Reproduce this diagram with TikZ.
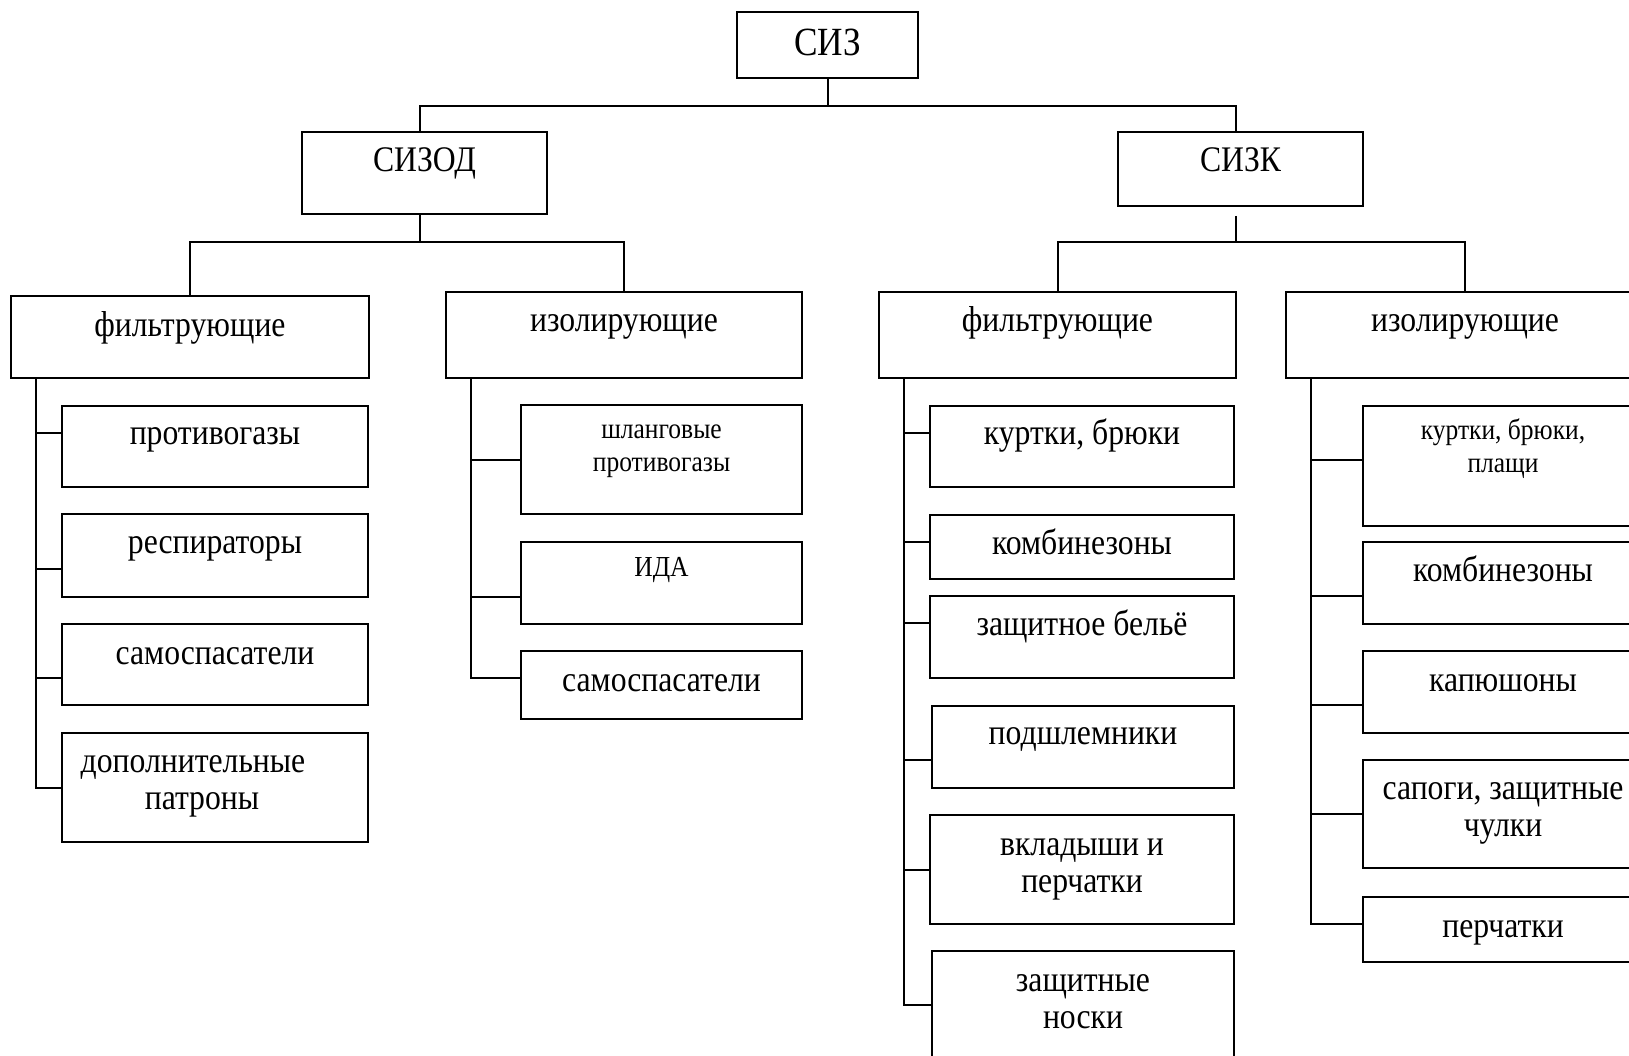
\documentclass[tikz,border=0pt]{standalone}
\usepackage{fontspec}
\setmainfont{Liberation Serif}[FakeStretch=0.88]
\newcommand\boxfont{\fontsize{36}{37}\selectfont}
\newcommand\smallboxfont{\fontsize{29}{33}\selectfont}
\newcommand\topfont{\fontsize{40}{40}\selectfont}

\begin{document}
\begin{tikzpicture}[x=1pt, y=-1pt, line width=2pt,
    box/.style={draw, inner sep=0pt, anchor=north west, align=center, font=\boxfont, text height=40pt},
    small/.style={font=\smallboxfont, text height=34pt}]
  \useasboundingbox (0,0) rectangle (1629,1056);
  \clip (0,0) rectangle (1629,1056);

  % top levels
  \node[box, font=\topfont, minimum width=181, text height=44pt, text depth=22pt] (siz) at (736,11) {СИЗ};
  \node[box, minimum width=245, text height=40pt, text depth=42pt] (sizod) at (301,131) {СИЗОД};
  \node[box, minimum width=245, text height=40pt, text depth=34pt] (sizk) at (1117,131) {СИЗК};

  \node[box, minimum width=358, text height=40pt, text depth=42pt] (fil1) at (10,295) {фильтрующие};
  \node[box, minimum width=356, text height=39pt, text depth=47pt] (iso1) at (445,291) {изолирующие};
  \node[box, minimum width=357, text height=39pt, text depth=47pt] (fil2) at (878,291) {фильтрующие};
  \node[box, minimum width=358, text height=39pt, text depth=47pt] (iso2) at (1285,291) {изолирующие};

  % СИЗОД, фильтрующие
  \node[box, minimum width=306, text height=38pt, text depth=43pt] (a1) at (61,405) {противогазы};
  \node[box, minimum width=306, text height=39pt, text depth=44pt] (a2) at (61,513) {респираторы};
  \node[box, minimum width=306, text depth=41pt] (a3) at (61,623) {самоспасатели};
  \node[box, minimum width=306, text height=76pt, text depth=33pt] (a4) at (61,732) {дополнительные\hspace*{44pt}\\патроны\hspace*{26pt}};

  % СИЗОД, изолирующие
  \node[box, small, minimum width=281, text height=66pt, text depth=43pt] (b1) at (520,404) {шланговые\\противогазы};
  \node[box, small, minimum width=281, text depth=48pt] (b2) at (520,541) {ИДА};
  \node[box, minimum width=281, text depth=28pt] (b3) at (520,650) {самоспасатели};

  % СИЗК, фильтрующие
  \node[box, minimum width=304, text height=38pt, text depth=43pt] (c1) at (929,405) {куртки, брюки};
  \node[box, minimum width=304, text height=39pt, text depth=25pt] (c2) at (929,514) {комбинезоны};
  \node[box, minimum width=304, text height=39pt, text depth=43pt] (c3) at (929,595) {защитное бельё};
  \node[box, minimum width=302, text height=38pt, text depth=44pt] (c4) at (931,705) {подшлемники};
  \node[box, minimum width=304, text height=77pt, text depth=32pt] (c5) at (929,814) {вкладыши и\\перчатки};
  \node[box, minimum width=302, text height=77pt, text depth=43pt] (c6) at (931,950) {защитные\\носки};

  % СИЗК, изолирующие
  \node[box, small, minimum width=280, text height=66pt, text depth=54pt] (d1) at (1362,405) {куртки, брюки,\\плащи};
  \node[box, minimum width=280, text height=39pt, text depth=43pt] (d2) at (1362,541) {комбинезоны};
  \node[box, minimum width=280, text depth=42pt] (d3) at (1362,650) {капюшоны};
  \node[box, minimum width=280, text height=76pt, text depth=32pt] (d4) at (1362,759) {сапоги, защитные\\чулки};
  \node[box, minimum width=280, text depth=25pt] (d5) at (1362,896) {перчатки};

  % tree lines
  \draw (siz.south) -- ++(0,27) coordinate (bus0);
  \draw ([xshift=-5pt]sizod.north) |- (bus0) -| ([xshift=-5pt]sizk.north);
  \draw ([xshift=-5pt]sizod.south) -- ++(0,27) coordinate (bus1);
  \draw (fil1.north) |- (bus1) -| (iso1.north);
  \draw[shorten <=9pt] ([xshift=-5pt]sizk.south) -- ++(0,35) coordinate (bus2);
  \draw (fil2.north) |- (bus2) -| (iso2.north);

  % spines
  \coordinate (s1) at ([xshift=26pt]fil1.south west);
  \coordinate (s2) at ([xshift=26pt]iso1.south west);
  \coordinate (s3) at ([xshift=26pt]fil2.south west);
  \coordinate (s4) at ([xshift=26pt]iso2.south west);
  \foreach \leaf/\dy in {a1/13.8, a2/-13.8, a3/-13.2, a4/0}
    \draw (s1) |- ([yshift=\dy pt]\leaf.west);
  \foreach \leaf/\dy in {b1/0, b2/-13.7, b3/7.3}
    \draw (s2) |- ([yshift=\dy pt]\leaf.west);
  \foreach \leaf/\dy in {c1/13.8, c2/5.2, c3/13.8, c4/-12.9, c5/0, c6/6}
    \draw (s3) |- ([yshift=\dy pt]\leaf.west);
  \foreach \leaf/\dy in {d1/5.7, d2/-12.7, d3/-13, d4/0, d5/5.5}
    \draw (s4) |- ([yshift=\dy pt]\leaf.west);
\end{tikzpicture}
\end{document}
